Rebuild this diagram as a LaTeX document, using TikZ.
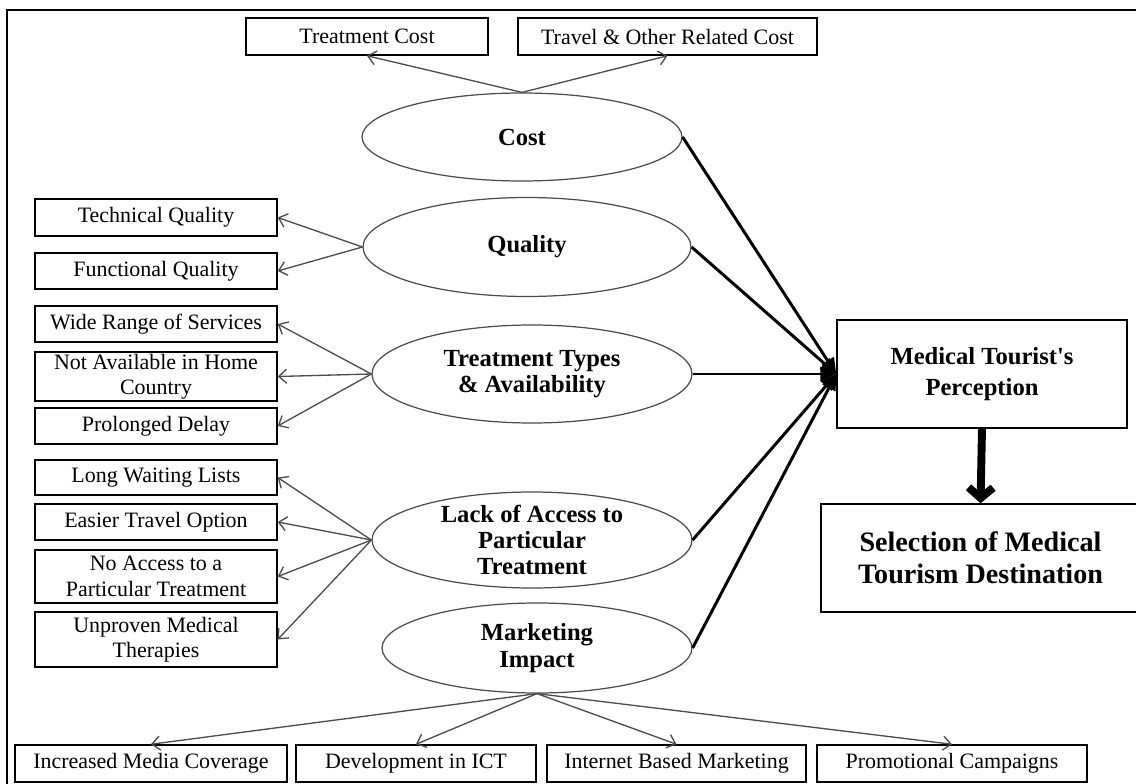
\documentclass[tikz,border=0pt]{standalone}
\usepackage{fontspec}
\setmainfont{Liberation Serif}
\usetikzlibrary{shapes.geometric,arrows.meta}

\begin{document}
\begin{tikzpicture}[x=0.02cm, y=-0.02cm,
  smallbox/.style={draw, line width=0.85pt, inner sep=1pt, align=center, font=\fontsize{12.5}{14.5}\selectfont},
  leftbox/.style={smallbox, minimum width=4.84cm},
  bigbox/.style={draw, line width=0.85pt, inner sep=1pt, align=center, font=\bfseries\fontsize{14}{18}\selectfont},
  construct/.style={ellipse, draw=gray!60!black, line width=0.7pt, inner sep=0pt},
  lbl/.style={font=\bfseries\fontsize{14}{15}\selectfont, align=center},
  thinarrow/.style={draw=gray!60!black, line width=0.75pt, -{Straight Barb[length=4.5pt,width=8pt]}},
  thickarrow/.style={line width=1.7pt, -{Triangle[length=9pt,width=8pt]}}]

% drawing dimensions
\newcommand{\lx}{156}
\newcommand{\by}{763.5}

% ad hoc bounding box and frame
\useasboundingbox (0,0) rectangle (1136,784);
\clip (0,0) rectangle (1136,784);
\draw[line width=1pt] (7,10) rectangle (1150,800);

% top boxes
\node[smallbox, minimum width=4.84cm, minimum height=0.74cm] (tcost) at (367,36.5) {Treatment Cost};
\node[smallbox, minimum width=5.98cm, minimum height=0.74cm] (travel) at (667.5,36.5) {Travel \& Other Related Cost};

% ellipses
\node[construct, minimum width=6.4cm, minimum height=1.76cm, label={[lbl]center:Cost}] (cost) at (522,137) {};
\node[construct, minimum width=6.56cm, minimum height=1.98cm, label={[lbl]center:Quality}] (quality) at (527,247) {};
\node[construct, minimum width=6.4cm, minimum height=1.96cm, label={[lbl]center:{Treatment Types\\\& Availability}}] (types) at (532,374) {};
\node[construct, minimum width=6.4cm, minimum height=1.92cm, label={[lbl]center:{Lack of Access to\\Particular\\Treatment}}] (access) at (532,540) {};
\node[construct, minimum width=6.2cm, minimum height=1.8cm, label={[lbl]center:{Marketing\\Impact}}] (marketing) at (537,648) {};

% left boxes
\node[leftbox, minimum height=0.74cm] (technical) at (\lx,217.5) {Technical Quality};
\node[leftbox, minimum height=0.72cm] (functional) at (\lx,271) {Functional Quality};
\node[leftbox, minimum height=0.72cm] (range) at (\lx,324) {Wide Range of Services};
\node[leftbox, minimum height=0.98cm] (home) at (\lx,376.5) {Not Available in Home\\Country};
\node[leftbox, minimum height=0.72cm] (delay) at (\lx,426) {Prolonged Delay};
\node[leftbox, minimum height=0.70cm] (waiting) at (\lx,477.5) {Long Waiting Lists};
\node[leftbox, minimum height=0.72cm] (easier) at (\lx,522) {Easier Travel Option};
\node[leftbox, minimum height=1.06cm] (noaccess) at (\lx,576.5) {No Access to a\\Particular Treatment};
\node[leftbox, minimum height=1.10cm] (unproven) at (\lx,639.5) {Unproven Medical\\Therapies};

% bottom boxes
\node[smallbox, minimum width=5.44cm, minimum height=0.74cm] (media) at (151,\by) {Increased Media Coverage};
\node[smallbox, minimum width=4.8cm, minimum height=0.74cm] (ict) at (416,\by) {Development in ICT};
\node[smallbox, minimum width=5.18cm, minimum height=0.74cm] (internet) at (676.5,\by) {Internet Based Marketing};
\node[smallbox, minimum width=5.4cm, minimum height=0.74cm] (promo) at (952,\by) {Promotional Campaigns};

% right boxes
\node[bigbox, minimum width=5.8cm, minimum height=2.16cm] (perception) at (982,374) {Medical Tourist\textquotesingle s\\Perception};
\node[bigbox, minimum width=6.38cm, minimum height=2.16cm, font=\bfseries\fontsize{16}{18}\selectfont] (selection) at (980.5,558) {Selection of Medical\\Tourism Destination};

% thin arrows
\draw[thinarrow] (cost.north) -- (tcost.south);
\draw[thinarrow] (cost.north) -- (travel.south);
\foreach \t in {technical,functional}
  \draw[thinarrow] (quality.west) -- (\t.east);
\foreach \t in {range,home,delay}
  \draw[thinarrow] (types.west) -- (\t.east);
\foreach \t in {waiting,easier,noaccess,unproven}
  \draw[thinarrow] (access.west) -- (\t.east);
\foreach \t in {media,ict,internet,promo}
  \draw[thinarrow] (marketing.south) -- (\t.north);

% thick arrows
\foreach \s in {cost,quality,types,access,marketing}
  \draw[thickarrow] (\s.east) -- (perception.west);
\draw[line width=4.5pt, -{Straight Barb[length=6pt,width=14pt]}] (perception.south) -- (selection.north);

\end{tikzpicture}
\end{document}
